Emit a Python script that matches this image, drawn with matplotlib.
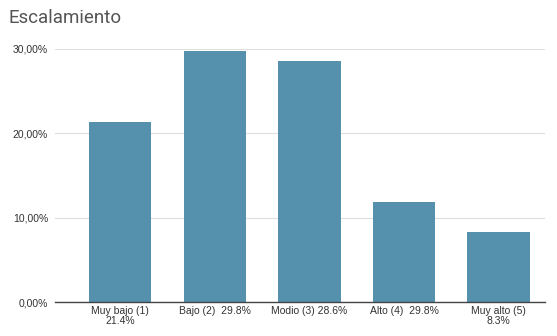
import matplotlib
matplotlib.use("Agg")
import matplotlib.pyplot as plt
from matplotlib.ticker import FuncFormatter

title = "Escalamiento"
categories = ["Muy bajo (1)\n21.4%", "Bajo (2)  29.8%", "Modio (3) 28.6%",
              "Alto (4)  29.8%", "Muy alto (5)\n8.3%"]
values = [21.4, 29.8, 28.6, 11.9, 8.3]
yticks = [0, 10, 20, 30]

plt.rcParams["font.family"] = ["Liberation Sans", "DejaVu Sans"]

fig = plt.figure(figsize=(5.57, 3.36), dpi=100)
ax = fig.add_axes([55 / 557, 1 - 302 / 336, 490 / 557, 253 / 336])

x = list(range(len(values)))
ax.bar(x, values, width=0.66, color="#5590ad", zorder=3)

ax.set_xlim(-0.69, 4.49)
ax.set_ylim(0, 30)
ax.set_yticks(yticks)
ax.yaxis.set_major_formatter(FuncFormatter(lambda v, p: f"{v:.2f}%".replace(".", ",")))
ax.set_xticks(x)
ax.set_xticklabels(categories, fontsize=7.5, color="#333333", linespacing=1.0)
ax.tick_params(axis="y", labelsize=7.5, colors="#333333", length=0, pad=5)
ax.tick_params(axis="x", length=0, pad=3)

ax.grid(axis="y", color="#dedede", linewidth=0.8, zorder=0)
for s in ["top", "right", "left"]:
    ax.spines[s].set_visible(False)
ax.spines["bottom"].set_color("#444444")
ax.spines["bottom"].set_linewidth(1.0)
ax.spines["bottom"].set_zorder(4)

fig.text(8 / 557, 1 - 18 / 336, title, fontsize=13.5, color="#555555",
         ha="left", va="center", family="Roboto")

fig.savefig("out.png", dpi=100)
